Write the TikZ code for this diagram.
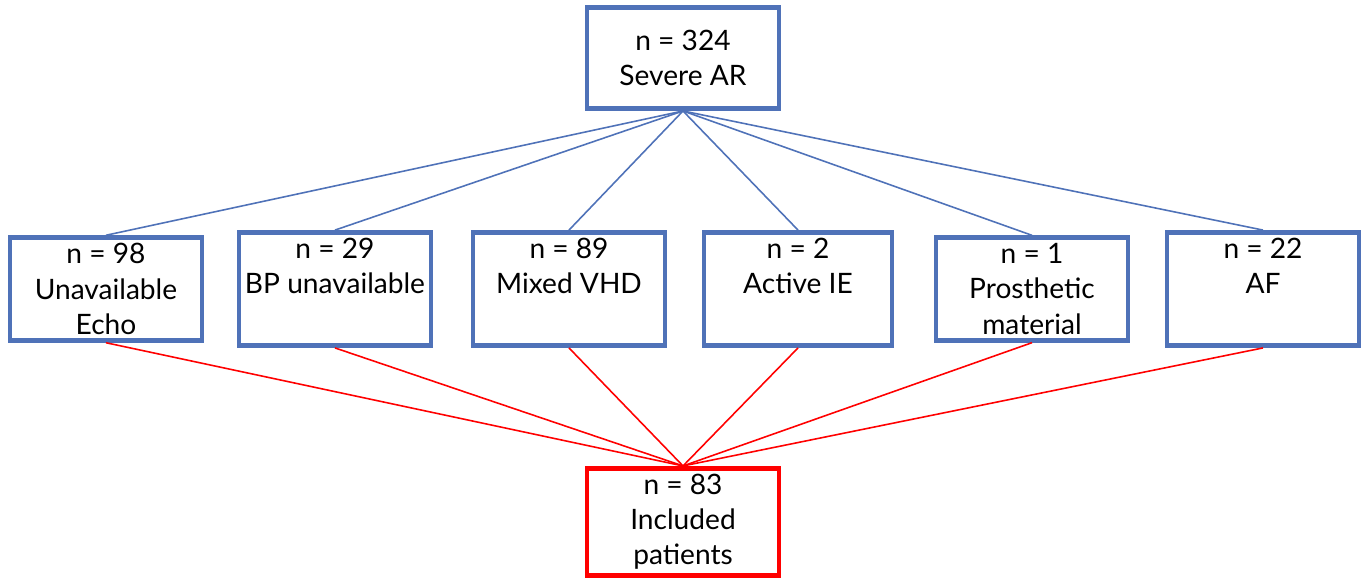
\documentclass[tikz,border=0pt]{standalone}
\usepackage{fontspec}
\setmainfont{Lato}
\definecolor{boxblue}{RGB}{79,114,184}
\begin{document}
\begin{tikzpicture}[
    box/.style={draw=boxblue, line width=2.8pt, minimum width=3.84cm, minimum height=2.02cm,
        align=center, font=\fontsize{16}{20}\selectfont, fill=white},
    inbox/.style={box, draw=red},
    excl/.style={boxblue, line width=0.9pt},
    incl/.style={red, line width=0.9pt}]
    \useasboundingbox (0,0) rectangle (27.36,11.68);
    % top and bottom boxes
    \node[box] (ar) at (13.66,10.52) {n = 324\\Severe AR};
    \node[inbox] (inc) at (13.66,1.24) {n = 83\\Included\\patients};
    % excluded groups
    \node[box] (echo) at (2.12,5.90) {n = 98\\Unavailable\\Echo};
    \node[box] (bp) at (6.70,5.90) {n = 29\\BP unavailable\\\strut};
    \node[box] (vhd) at (11.38,5.90) {n = 89\\Mixed VHD\\\strut};
    \node[box, minimum width=3.76cm] (ie) at (15.96,5.90) {n = 2\\Active IE\\\strut};
    \node[box] (pros) at (20.64,5.90) {n = 1\\Prosthetic\\material};
    \node[box] (af) at (25.26,5.90) {n = 22\\AF\\\strut};
    % connectors
    \foreach \g in {echo,bp,vhd,ie,pros,af} {
        \draw[excl] (ar.south) -- (\g.north);
        \draw[incl] (\g.south) -- (inc.north);
    }
\end{tikzpicture}
\end{document}
